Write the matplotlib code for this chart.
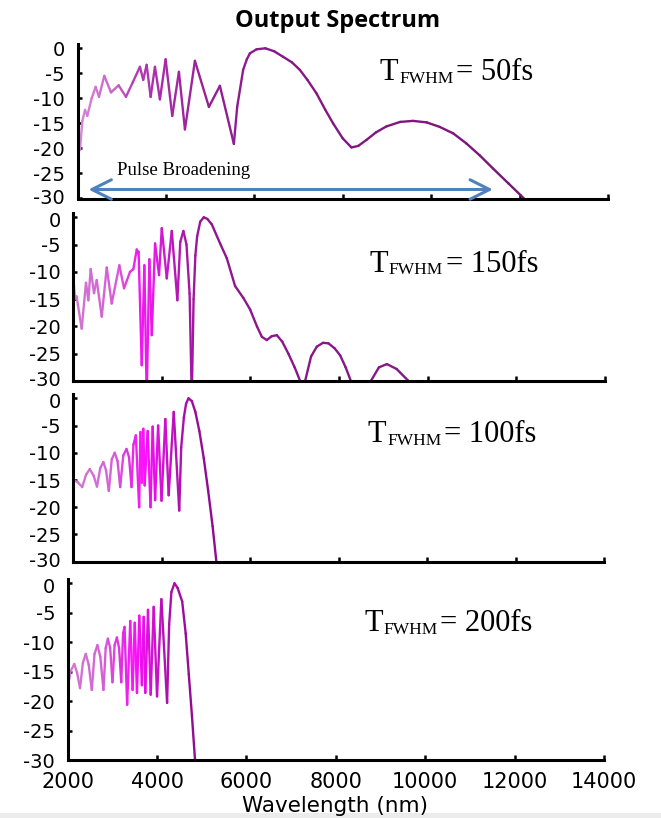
import numpy as np
import matplotlib
matplotlib.use("Agg")
import matplotlib.pyplot as plt
import matplotlib.transforms as mtransforms
from matplotlib.collections import LineCollection
from matplotlib.patches import Rectangle
from matplotlib.colors import to_rgb

plt.rcParams['axes.unicode_minus'] = False

# ---------------- data (wavelength in nm, spectrum in dB) ----------------
wl_50 = [2018, 2056, 2110, 2170, 2222, 2320, 2411, 2486, 2606, 2757, 2930, 3096,
         3250, 3412, 3487, 3564, 3654, 3752, 3864, 3993, 4143, 4294, 4430, 4656,
         4972, 5221, 5537, 5612, 5747, 5830, 5900, 6050, 6250, 6450, 6651, 6850, 7029,
         7200, 7406, 7600, 7782, 8000, 8197, 8350, 8536, 8750, 8988, 9300, 9590,
         9900, 10193, 10500, 10796, 11100, 11398, 11750, 12100]
db_50 = [-16.0, -20.3, -14.5, -12.3, -13.5, -10.0, -7.7, -9.7, -5.5, -8.8, -7.4, -9.7,
         -6.8, -3.7, -6.3, -3.3, -9.7, -3.7, -10.2, -2.2, -13.5, -4.7, -16.2, -2.5,
         -11.7, -7.5, -19.1, -11.7, -4.3, -2.2, -1.0, -0.2, 0.0, -0.6, -1.7, -2.8, -4.3,
         -6.3, -9.0, -12.2, -15.0, -18.0, -19.8, -19.5, -18.3, -16.8, -15.6, -14.7, -14.5,
         -14.8, -15.7, -17.0, -19.0, -21.4, -24.0, -27.0, -30.0]

wl_150 = [2007, 2045, 2080, 2110, 2196, 2293, 2346, 2399, 2474, 2535, 2648, 2761,
          2873, 3045, 3151, 3286, 3361, 3438, 3460, 3480, 3550, 3610, 3663, 3723,
          3776, 3851, 3941, 4002, 4115, 4228, 4354, 4420, 4490, 4560, 4630, 4679,
          4720, 4760, 4800, 4870, 4950, 5030, 5131,
          5318, 5469, 5656, 5844, 5995, 6150, 6259, 6372, 6480, 6598, 6720, 6859,
          7000, 7123, 7180, 7236, 7370, 7500, 7640, 7762, 7900, 8026, 8150, 8268,
          8500, 8719, 8900, 9080, 9300, 9568, 9650]
db_150 = [-11.2, -14.9, -14.5, -16.0, -20.4, -12.0, -15.2, -9.5, -13.9, -11.5, -18.2, -9.2,
          -15.8, -8.8, -13.0, -10.0, -9.5, -5.9, -6.6, -6.3, -27.1, -8.8, -33.0, -7.7,
          -21.6, -4.8, -10.6, -2.0, -11.2, -2.5, -15.2, -4.5, -2.5, -5.0, -14.0, -33.0,
          -15.0, -7.0, -3.5, -0.8, 0.0, -0.3, -1.3,
          -4.8, -7.5, -12.6, -14.8, -16.9, -20.0, -21.9, -22.5, -21.8, -21.6, -22.8, -25.0,
          -27.5, -30.0, -33.0, -30.0, -25.5, -23.7, -23.0, -23.1, -24.0, -25.3, -27.5, -30.0,
          -34.0, -30.0, -27.5, -26.9, -27.8, -30.0, -32.0]

wl_100 = [2000, 2100, 2201, 2290, 2373, 2460, 2536, 2610, 2679, 2740, 2803, 2870,
          2936, 3000, 3060, 3130, 3203, 3260, 3317, 3360, 3414, 3489, 3518, 3550,
          3583, 3613, 3681, 3746, 3794, 3850, 3918, 3995, 4081, 4156, 4271, 4395,
          4440, 4500, 4550, 4604, 4680, 4760, 4850, 4950, 5050, 5150, 5235]
db_100 = [-15.0, -15.4, -16.3, -14.0, -13.0, -14.2, -16.2, -12.8, -11.7, -13.2, -17.0, -11.2,
          -10.0, -11.5, -16.3, -10.5, -9.3, -10.8, -16.3, -8.5, -6.8, -20.0, -6.2, -15.5,
          -5.6, -16.0, -6.0, -20.0, -5.2, -18.7, -5.0, -18.8, -3.8, -17.8, -2.5, -20.6,
          -9.0, -3.5, -1.0, 0.0, -0.5, -2.5, -6.0, -11.0, -17.0, -23.5, -30.0]

wl_200 = [2000, 2060, 2148, 2210, 2276, 2340, 2404, 2470, 2539, 2600, 2665, 2730,
          2800, 2850, 2899, 2950, 3002, 3050, 3101, 3150, 3198, 3240, 3272, 3330,
          3400, 3452, 3500, 3550, 3602, 3660, 3700, 3737, 3797, 3857, 3924, 3999,
          4096, 4224, 4270, 4320, 4389, 4460, 4562, 4640, 4710, 4780, 4849]
db_200 = [-17.8, -15.0, -13.7, -15.2, -17.8, -13.5, -12.0, -13.8, -18.1, -12.0, -10.5, -12.5,
          -18.1, -11.0, -9.4, -11.0, -16.8, -10.5, -9.2, -11.0, -16.8, -8.5, -7.4, -20.6,
          -6.4, -18.1, -6.7, -18.6, -5.5, -17.3, -5.7, -18.6, -4.5, -18.9, -4.0, -19.2,
          -2.7, -20.3, -7.0, -1.5, 0.0, -0.8, -3.1, -8.5, -15.5, -22.5, -30.0]

pulse_labels = ["50fs", "150fs", "100fs", "200fs"]
x_ticks = [2000, 4000, 6000, 8000, 10000, 12000, 14000]
y_ticks = [0, -5, -10, -15, -20, -25, -30]
arrow_span = (2249, 11397, -28.2)

# ---------------- layout / style ----------------
W, H = 661, 818
fig = plt.figure(figsize=(W / 100, H / 100), dpi=100)
fig.patch.set_facecolor('white')
fig.patches.append(Rectangle((0, 0), 1, 5 / H, transform=fig.transFigure,
                             facecolor='#ececec', edgecolor='none', zorder=0))

# panel boxes in pixels: x(2000), x(14000), y(0 dB), y(-30 dB)
boxes = [(77.5, 608, 48.3, 198.5),
         (73.0, 605, 217.3, 381.0),
         (73.3, 604, 398.3, 561.7),
         (67.7, 604, 583.3, 760.0)]
text_pos = [(380, 80), (369.5, 271.7), (368, 442.4), (364, 631)]

stops = [
    [(2000, '#d88ad8'), (2800, '#c966c9'), (3300, '#b43db4'), (4000, '#a828a8'),
     (5000, '#962096'), (6500, '#861886'), (14000, '#741474')],
    [(2000, '#cf78cf'), (3000, '#d85ad8'), (3500, '#f018f0'), (3800, '#e81ae8'),
     (4300, '#b818b8'), (5000, '#901690'), (14000, '#7a1a7a')],
    [(2000, '#d07cd0'), (2900, '#d660d6'), (3300, '#e030e0'), (3600, '#ff10ff'),
     (3900, '#e010e0'), (4400, '#b010b0'), (5000, '#900c90'), (14000, '#800080')],
    [(2000, '#d07cd0'), (2800, '#d660d6'), (3200, '#e030e0'), (3500, '#ff10ff'),
     (3800, '#e010e0'), (4200, '#b010b0'), (4800, '#900c90'), (14000, '#800080')],
]

series = [(wl_50, db_50), (wl_150, db_150), (wl_100, db_100), (wl_200, db_200)]
YMAX = 0.8


def gradient_line(ax, x, y, st):
    x = np.asarray(x, float)
    y = np.asarray(y, float)
    pts = np.column_stack([x, y])
    segs = np.stack([pts[:-1], pts[1:]], axis=1)
    mids = (x[:-1] + x[1:]) / 2
    sx = [s[0] for s in st]
    cols = np.array([to_rgb(s[1]) for s in st])
    rgb = np.column_stack([np.interp(mids, sx, cols[:, k]) for k in range(3)])
    lc = LineCollection(segs, colors=rgb, linewidths=1.7,
                        capstyle='round', joinstyle='round')
    ax.add_collection(lc)


axes = []
for i, (x0, x1, y0, y30) in enumerate(boxes):
    ppd = (y30 - y0) / 30.0
    top = y0 - YMAX * ppd
    ax = fig.add_axes([x0 / W, 1 - y30 / H, (x1 - x0) / W, (y30 - top) / H])
    ax.set_xlim(2000, 14000)
    ax.set_ylim(-30, YMAX)
    for s in ['top', 'right']:
        ax.spines[s].set_visible(False)
    for s in ['left', 'bottom']:
        ax.spines[s].set_linewidth(2.2)
        ax.spines[s].set_color('black')
    ax.set_xticks(x_ticks)
    ax.set_yticks(y_ticks)
    ax.set_yticklabels([str(v) for v in y_ticks])
    ax.tick_params(axis='x', direction='in', length=3.5, width=1.8)
    ax.tick_params(axis='y', direction='in', length=3, width=1.8, pad=9,
                   labelsize=14)
    # nudge the end labels apart where panels meet
    labs = ax.get_yticklabels()
    if i > 0:
        labs[0].set_transform(labs[0].get_transform() +
                              mtransforms.ScaledTranslation(0, -2.5 / 100, fig.dpi_scale_trans))
    if i < 3:
        labs[-1].set_transform(labs[-1].get_transform() +
                               mtransforms.ScaledTranslation(0, 2.5 / 100, fig.dpi_scale_trans))
    if i < 3:
        ax.set_xticklabels([])
    else:
        ax.set_xticklabels([str(v) for v in x_ticks])
        ax.tick_params(axis='x', labelsize=15, pad=9)
    gradient_line(ax, series[i][0], series[i][1], stops[i])

    tx, ty = text_pos[i]
    fig.text(tx / W, 1 - ty / H, 'T', family='Liberation Serif', fontsize=22,
             va='baseline', ha='left')
    fig.text((tx + 19) / W, 1 - (ty + 2.7) / H, 'FWHM', family='Liberation Serif',
             fontsize=12.5, va='baseline', ha='left')
    fig.text((tx + 76) / W, 1 - ty / H, '= ' + pulse_labels[i], family='Liberation Serif',
             fontsize=22, va='baseline', ha='left')
    axes.append(ax)

# arrow + label in first panel
ax1 = axes[0]
ax1.annotate('', xy=(arrow_span[1], arrow_span[2]), xytext=(arrow_span[0], arrow_span[2]),
             arrowprops=dict(arrowstyle='<->,head_length=1.4,head_width=0.7',
                             color='#4f81bd', lw=2.2, shrinkA=0, shrinkB=0))
fig.text(117 / W, 1 - 175 / H, 'Pulse Broadening', family='Liberation Serif',
         fontsize=13.5, va='baseline', ha='left')

fig.text(338 / W, 1 - 27 / H, 'Output Spectrum', family='Open Sans',
         fontweight='bold', fontsize=17, va='baseline', ha='center')
fig.text(335 / W, 1 - 812.5 / H, 'Wavelength (nm)', fontsize=15.5,
         va='baseline', ha='center')

fig.savefig('out.png', dpi=100)
